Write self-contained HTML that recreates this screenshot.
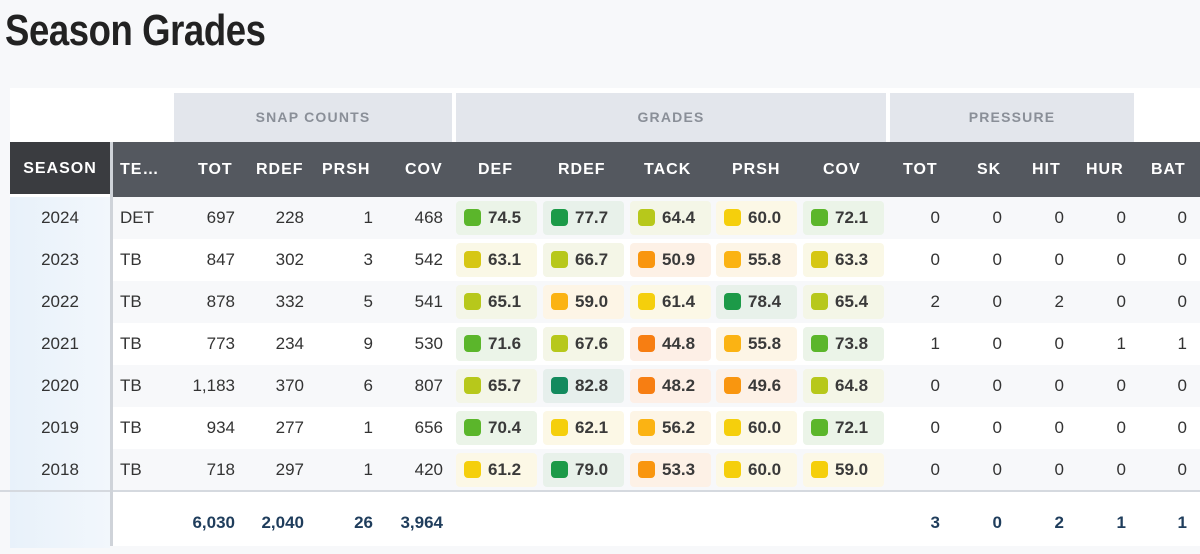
<!DOCTYPE html>
<html><head><meta charset="utf-8"><style>
*{margin:0;padding:0;box-sizing:border-box}
body{width:1200px;height:546px;overflow:hidden;background:#f7f8fa;font-family:"Liberation Sans",sans-serif;position:relative;color:#333}
h1{position:absolute;left:5px;top:6px;font-family:"Liberation Sans Narrow","Liberation Sans",sans-serif;font-weight:bold;font-size:44px;color:#222;letter-spacing:-0.5px;transform:scaleX(0.83);transform-origin:left}
.panel{position:absolute;left:10px;top:88px;width:1190px;height:458px;background:#fff}
.grp{position:absolute;top:93px;height:49px;background:#e3e6ec;color:#8a8f98;font-size:14px;font-weight:bold;letter-spacing:1.2px;text-align:center;line-height:49px}
.hdr{position:absolute;left:10px;top:142px;width:1190px;height:55px;background:#54585f}
.hdr span{position:absolute;top:0;line-height:55px;color:#fff;font-weight:bold;font-size:16px;letter-spacing:1px}
.seasonh{position:absolute;left:10px;top:142px;width:100px;height:55px;background:#3a3c40;color:#fff;font-weight:bold;font-size:16px;letter-spacing:1px;text-align:center;line-height:53px}
.seasonh:after{content:"";position:absolute;left:0;bottom:0;width:100px;height:3px;background:#fff}
.vline{position:absolute;left:110px;top:142px;width:3px;height:404px;background:#cfd3d9}
.row{position:absolute;left:0;width:1200px;height:42px;font-size:17px}
.row.alt{background:#f7f8fa}
.row span{position:absolute;top:0;line-height:42px}
.s{left:10px;width:100px;height:42px;text-align:center;background:linear-gradient(90deg,#e8f1fa,#f2f7fc)}
.t{left:120px}
.a{left:175px;width:60px;text-align:right}
.b{left:244px;width:60px;text-align:right}
.c{left:313px;width:60px;text-align:right}
.d{left:383px;width:60px;text-align:right}
.p1{left:880px;width:60px;text-align:right}
.p2{left:942px;width:60px;text-align:right}
.p3{left:1004px;width:60px;text-align:right}
.p4{left:1066px;width:60px;text-align:right}
.p5{left:1127px;width:60px;text-align:right}
.row i{position:absolute;top:4px;height:34px;width:81px;border-radius:4px;font-style:normal;font-weight:bold;color:#3a3a3a;font-size:17px;line-height:34px;padding-left:32px}
.row i:before{content:"";position:absolute;left:8px;top:8px;width:17px;height:17px;border-radius:4px;background:var(--c)}
.g1{left:456px}.g2{left:543px}.g3{left:630px}.g4{left:716px}.g5{left:803px}
.dg{--c:#1c9a48;background:#e8f1ea}
.tg{--c:#138a5e;background:#e6efec}
.gr{--c:#5bb62b;background:#ebf4e8}
.yg{--c:#b7c81b;background:#f4f6e7}
.ol{--c:#d6c714;background:#faf8e6}
.ye{--c:#f5cf0c;background:#fcf8e6}
.am{--c:#fbb313;background:#fdf5e6}
.or{--c:#f9960f;background:#fdf1e6}
.do{--c:#f77e12;background:#fdefe6}
.tot{position:absolute;top:490px;left:0;width:1200px;height:56px;font-size:17px;font-weight:bold;color:#1f3d5c;border-top:2px solid #d5d9df}
.tot span{position:absolute;top:0;line-height:62px}
.tot .s{height:56px}
</style></head><body>
<h1>Season Grades</h1>
<div class="panel"></div>
<div class="grp" style="left:174px;width:278px">SNAP COUNTS</div>
<div class="grp" style="left:456px;width:430px">GRADES</div>
<div class="grp" style="left:890px;width:244px">PRESSURE</div>
<div class="hdr">
<span style="left:110px">TE…</span>
<span style="left:188px">TOT</span>
<span style="left:246px">RDEF</span>
<span style="left:312px">PRSH</span>
<span style="left:395px">COV</span>
<span style="left:468px">DEF</span>
<span style="left:548px">RDEF</span>
<span style="left:634px">TACK</span>
<span style="left:722px">PRSH</span>
<span style="left:813px">COV</span>
<span style="left:893px">TOT</span>
<span style="left:967px">SK</span>
<span style="left:1022px">HIT</span>
<span style="left:1076px">HUR</span>
<span style="left:1141px">BAT</span>
</div>
<div class="seasonh">SEASON</div>

<div class="row alt" style="top:197px"><span class="s">2024</span><span class="t">DET</span><span class="a">697</span><span class="b">228</span><span class="c">1</span><span class="d">468</span><i class="g1 gr">74.5</i><i class="g2 dg">77.7</i><i class="g3 yg">64.4</i><i class="g4 ye">60.0</i><i class="g5 gr">72.1</i><span class="p1">0</span><span class="p2">0</span><span class="p3">0</span><span class="p4">0</span><span class="p5">0</span></div>
<div class="row" style="top:239px"><span class="s">2023</span><span class="t">TB</span><span class="a">847</span><span class="b">302</span><span class="c">3</span><span class="d">542</span><i class="g1 ol">63.1</i><i class="g2 yg">66.7</i><i class="g3 or">50.9</i><i class="g4 am">55.8</i><i class="g5 ol">63.3</i><span class="p1">0</span><span class="p2">0</span><span class="p3">0</span><span class="p4">0</span><span class="p5">0</span></div>
<div class="row alt" style="top:281px"><span class="s">2022</span><span class="t">TB</span><span class="a">878</span><span class="b">332</span><span class="c">5</span><span class="d">541</span><i class="g1 yg">65.1</i><i class="g2 am">59.0</i><i class="g3 ye">61.4</i><i class="g4 dg">78.4</i><i class="g5 yg">65.4</i><span class="p1">2</span><span class="p2">0</span><span class="p3">2</span><span class="p4">0</span><span class="p5">0</span></div>
<div class="row" style="top:323px"><span class="s">2021</span><span class="t">TB</span><span class="a">773</span><span class="b">234</span><span class="c">9</span><span class="d">530</span><i class="g1 gr">71.6</i><i class="g2 yg">67.6</i><i class="g3 do">44.8</i><i class="g4 am">55.8</i><i class="g5 gr">73.8</i><span class="p1">1</span><span class="p2">0</span><span class="p3">0</span><span class="p4">1</span><span class="p5">1</span></div>
<div class="row alt" style="top:365px"><span class="s">2020</span><span class="t">TB</span><span class="a">1,183</span><span class="b">370</span><span class="c">6</span><span class="d">807</span><i class="g1 yg">65.7</i><i class="g2 tg">82.8</i><i class="g3 do">48.2</i><i class="g4 or">49.6</i><i class="g5 yg">64.8</i><span class="p1">0</span><span class="p2">0</span><span class="p3">0</span><span class="p4">0</span><span class="p5">0</span></div>
<div class="row" style="top:407px"><span class="s">2019</span><span class="t">TB</span><span class="a">934</span><span class="b">277</span><span class="c">1</span><span class="d">656</span><i class="g1 gr">70.4</i><i class="g2 ye">62.1</i><i class="g3 am">56.2</i><i class="g4 ye">60.0</i><i class="g5 gr">72.1</i><span class="p1">0</span><span class="p2">0</span><span class="p3">0</span><span class="p4">0</span><span class="p5">0</span></div>
<div class="row alt" style="top:449px"><span class="s">2018</span><span class="t">TB</span><span class="a">718</span><span class="b">297</span><span class="c">1</span><span class="d">420</span><i class="g1 ye">61.2</i><i class="g2 dg">79.0</i><i class="g3 or">53.3</i><i class="g4 ye">60.0</i><i class="g5 ye">59.0</i><span class="p1">0</span><span class="p2">0</span><span class="p3">0</span><span class="p4">0</span><span class="p5">0</span></div>

<div class="tot"><span class="s"></span><span class="a">6,030</span><span class="b">2,040</span><span class="c">26</span><span class="d">3,964</span><span class="p1">3</span><span class="p2">0</span><span class="p3">2</span><span class="p4">1</span><span class="p5">1</span></div>
<div class="vline"></div>
</body></html>
